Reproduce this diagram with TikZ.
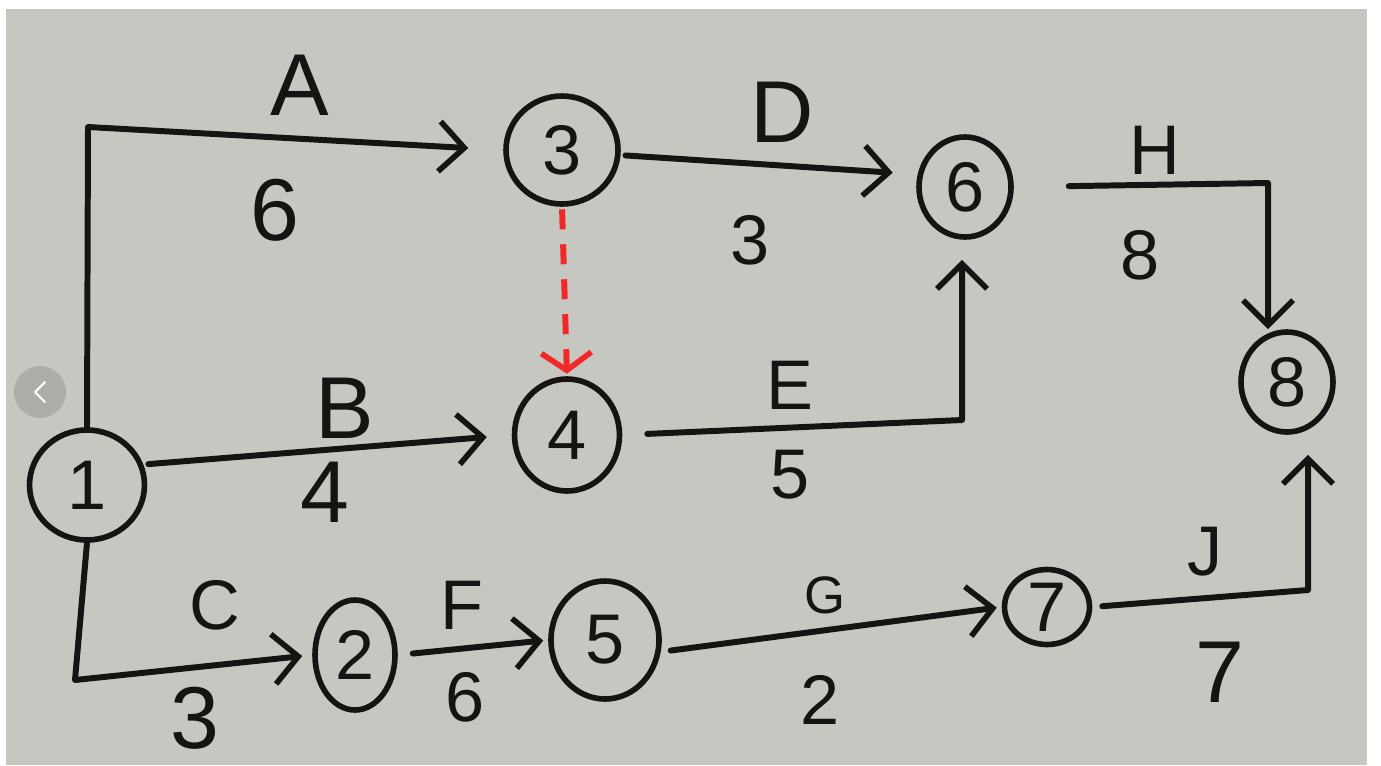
\documentclass[tikz,border=0pt]{standalone}
\usepackage{fontspec}
\setmainfont{Liberation Sans}
\usetikzlibrary{arrows.meta,shapes.geometric}
\definecolor{paper}{RGB}{199,199,194}
\definecolor{ink}{RGB}{22,20,18}
\definecolor{redink}{RGB}{240,40,40}
\definecolor{uigray}{RGB}{168,168,165}
\tikzset{
  evnode/.style={ellipse,draw=ink,line width=3.2pt,inner sep=0pt,text=ink,
     font=\fontsize{40}{40}\selectfont},
  arr/.style={draw=ink,line width=3.4pt,line cap=round,line join=round,
     -{Straight Barb[length=0.5cm,width=1.0cm,line width=3.2pt]}},
  dummyarr/.style={draw=redink,line width=3.4pt,dash pattern=on 0.4cm off 0.3cm,
     -{Straight Barb[length=0.35cm,width=1.0cm,line width=3.2pt]}},
  biglab/.style={text=ink,font=\fontsize{50}{50}\selectfont,inner sep=0pt},
  midlab/.style={text=ink,font=\fontsize{40}{40}\selectfont,inner sep=0pt},
  smalllab/.style={text=ink,font=\fontsize{30}{30}\selectfont,inner sep=0pt},
}
\begin{document}
\begin{tikzpicture}[x=0.02cm,y=-0.02cm]
\useasboundingbox (0,0) rectangle (1381,765);
\fill[white] (0,0) rectangle (1381,765);
\fill[paper] (6,9) rectangle (1367,765);

% events
\node[evnode,minimum width=2.3cm,minimum height=2.2cm] (n1) at (87,485) {1};
\node[evnode,minimum width=2.24cm,minimum height=2.16cm] (n3) at (562,150) {3};
\node[evnode,minimum width=2.1cm,minimum height=2.24cm] (n4) at (567,435) {4};
\node[evnode,minimum width=1.84cm,minimum height=2.0cm] (n6) at (965,187) {6};
\node[evnode,minimum width=1.84cm,minimum height=2.0cm] (n8) at (1287,382) {8};
\node[evnode,minimum width=1.6cm,minimum height=2.2cm] (n2) at (355,655) {2};
\node[evnode,minimum width=2.16cm,minimum height=2.36cm] (n5) at (605,640) {5};
\node[evnode,minimum width=1.7cm,minimum height=1.5cm] (n7) at (1047,607) {7};

% bend points
\coordinate (cA) at (88,127);
\coordinate (cC) at (75,680);
\coordinate (cE) at (962,420);
\coordinate (cH) at (1268,183);
\coordinate (cJ) at (1308,590);

% activities
\draw[arr,shorten >=0.7cm] (n1.north) -- (cA) -- (n3.west);
\draw[arr,shorten <=0.1cm,shorten >=0.5cm] (n1.20) -- (n4.west);
\draw[arr,shorten >=0.2cm] (n1.south) -- (cC) -- (n2.west);
\draw[arr,shorten <=0.3cm,shorten >=0.1cm] (n2.east) -- (n5.west);
\draw[arr,shorten <=0.2cm,shorten >=0.1cm] (n5.-12) -- (n7.west);
\draw[arr,shorten <=0.2cm,shorten >=0.4cm] (n7.east) -- (cJ) -- (cJ |- n8.south);
\draw[arr,shorten <=0.1cm,shorten >=0.5cm] (n3.-5) -- (n6.165);
\draw[arr,shorten <=0.5cm,shorten >=0.4cm] (n4.east) -- (cE) -- (cE |- n6.south);
\draw[arr,shorten <=1.1cm] (n6.east) -- (cH) -- (cH |- n8.north);
\draw[dummyarr,shorten <=0.05cm,shorten >=0.05cm] (n3.south) -- (n4.north);

% labels
\node[biglab] (lA) at (300,85) {A};
\node[biglab] (lA2) at (275,210) {6};
\node[biglab] (lB) at (345,408) {B};
\node[biglab] (lB2) at (325,492) {4};
\node[midlab] (lC) at (215,605) {C};
\node[biglab] (lC2) at (195,718) {3};
\node[midlab] (lF) at (462,605) {F};
\node[midlab] (lF2) at (465,697) {6};
\node[biglab] (lD) at (782,112) {D};
\node[midlab] (lD2) at (750,240) {3};
\node[midlab] (lE) at (790,385) {E};
\node[midlab] (lE2) at (790,475) {5};
\node[smalllab] (lG) at (825,595) {G};
\node[midlab] (lG2) at (820,700) {2};
\node[midlab] (lH) at (1155,150) {H};
\node[midlab] (lH2) at (1140,255) {8};
\node[midlab] (lJ) at (1205,552) {J};
\node[biglab] (lJ2) at (1220,672) {7};

% viewer overlay button
\fill[uigray,opacity=0.85] (40,392) circle (0.52cm);
\draw[white,line width=1.2pt,line cap=round,line join=round] (45,382) -- (35,392) -- (45,402);
\end{tikzpicture}
\end{document}
